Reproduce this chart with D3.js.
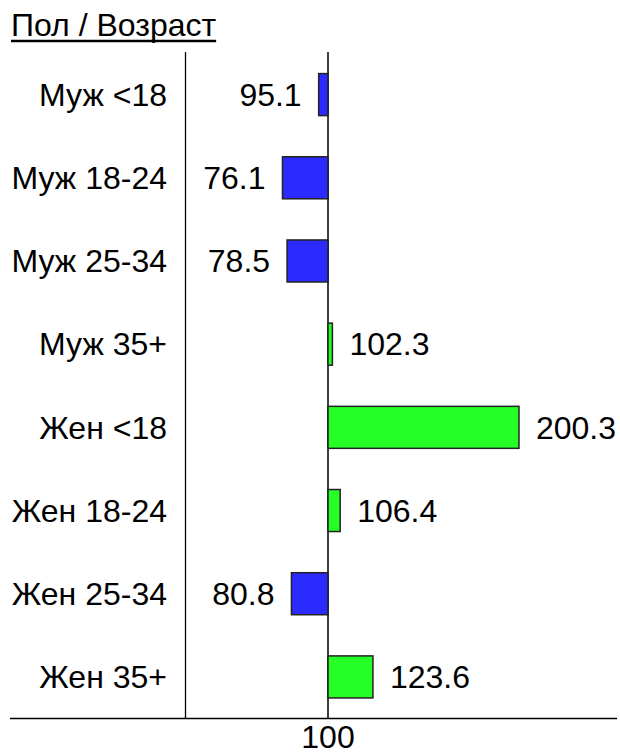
<!DOCTYPE html>
<html><head><meta charset="utf-8">
<script src="https://cdn.jsdelivr.net/npm/d3@7"></script>
<style>body{margin:0;background:#fff}svg{display:block}text{font-family:Arial,"Liberation Sans",sans-serif;fill:#000}</style>
</head><body>
<script>
const title = "Пол / Возраст";
const categories = ["Муж <18","Муж 18-24","Муж 25-34","Муж 35+","Жен <18","Жен 18-24","Жен 25-34","Жен 35+"];
const values = [95.1,76.1,78.5,102.3,200.3,106.4,80.8,123.6];
const baseValue = 100;
const tickValues = [100];

const W=620,H=754,fs=32;
const svg=d3.select("body").append("svg").attr("width",W).attr("height",H);
const x=d3.scaleLinear().domain([100,200]).range([328,518.4]);
const y=d3.scaleBand().domain(categories).range([53,718.5]).paddingInner(0.495).paddingOuter(0.2475);

// title
const t=svg.append("text").attr("x",11).attr("y",36).attr("font-size",fs).text(title);
const tw=t.node().getComputedTextLength();
svg.append("line").attr("x1",11).attr("x2",11+tw).attr("y1",41).attr("y2",41).attr("stroke","#000").attr("stroke-width",2.5);

// lines
svg.append("line").attr("x1",185.5).attr("x2",185.5).attr("y1",52).attr("y2",718.5).attr("stroke","#000").attr("stroke-width",1.3);
svg.append("line").attr("x1",x(baseValue)).attr("x2",x(baseValue)).attr("y1",52).attr("y2",718.5).attr("stroke","#000").attr("stroke-width",1.5);
svg.append("line").attr("x1",10).attr("x2",617).attr("y1",718.5).attr("y2",718.5).attr("stroke","#000").attr("stroke-width",1.5);

// bars
svg.selectAll("rect.bar").data(values).enter().append("rect")
 .attr("x",d=>Math.min(x(d),x(baseValue)))
 .attr("width",d=>Math.abs(x(d)-x(baseValue)))
 .attr("y",(d,i)=>y(categories[i]))
 .attr("height",y.bandwidth())
 .attr("fill",d=>d<baseValue?"#2b2bff":"#26ff26")
 .attr("stroke","#222").attr("stroke-width",1.5);

// category labels
svg.selectAll("text.cat").data(categories).enter().append("text")
 .attr("x",167).attr("y",d=>y(d)+y.bandwidth()/2).attr("dy","0.35em")
 .attr("text-anchor","end").attr("font-size",fs).text(d=>d);

// value labels
svg.selectAll("text.val").data(values).enter().append("text")
 .attr("x",d=>d<baseValue?x(d)-17:x(d)+17)
 .attr("y",(d,i)=>y(categories[i])+y.bandwidth()/2).attr("dy","0.35em")
 .attr("text-anchor",d=>d<baseValue?"end":"start").attr("font-size",fs).text(d=>d.toFixed(1));

// tick
svg.selectAll("text.tick").data(tickValues).enter().append("text")
 .attr("x",d=>x(d)).attr("y",748).attr("text-anchor","middle").attr("font-size",fs).text(d=>d);
</script>
</body></html>
